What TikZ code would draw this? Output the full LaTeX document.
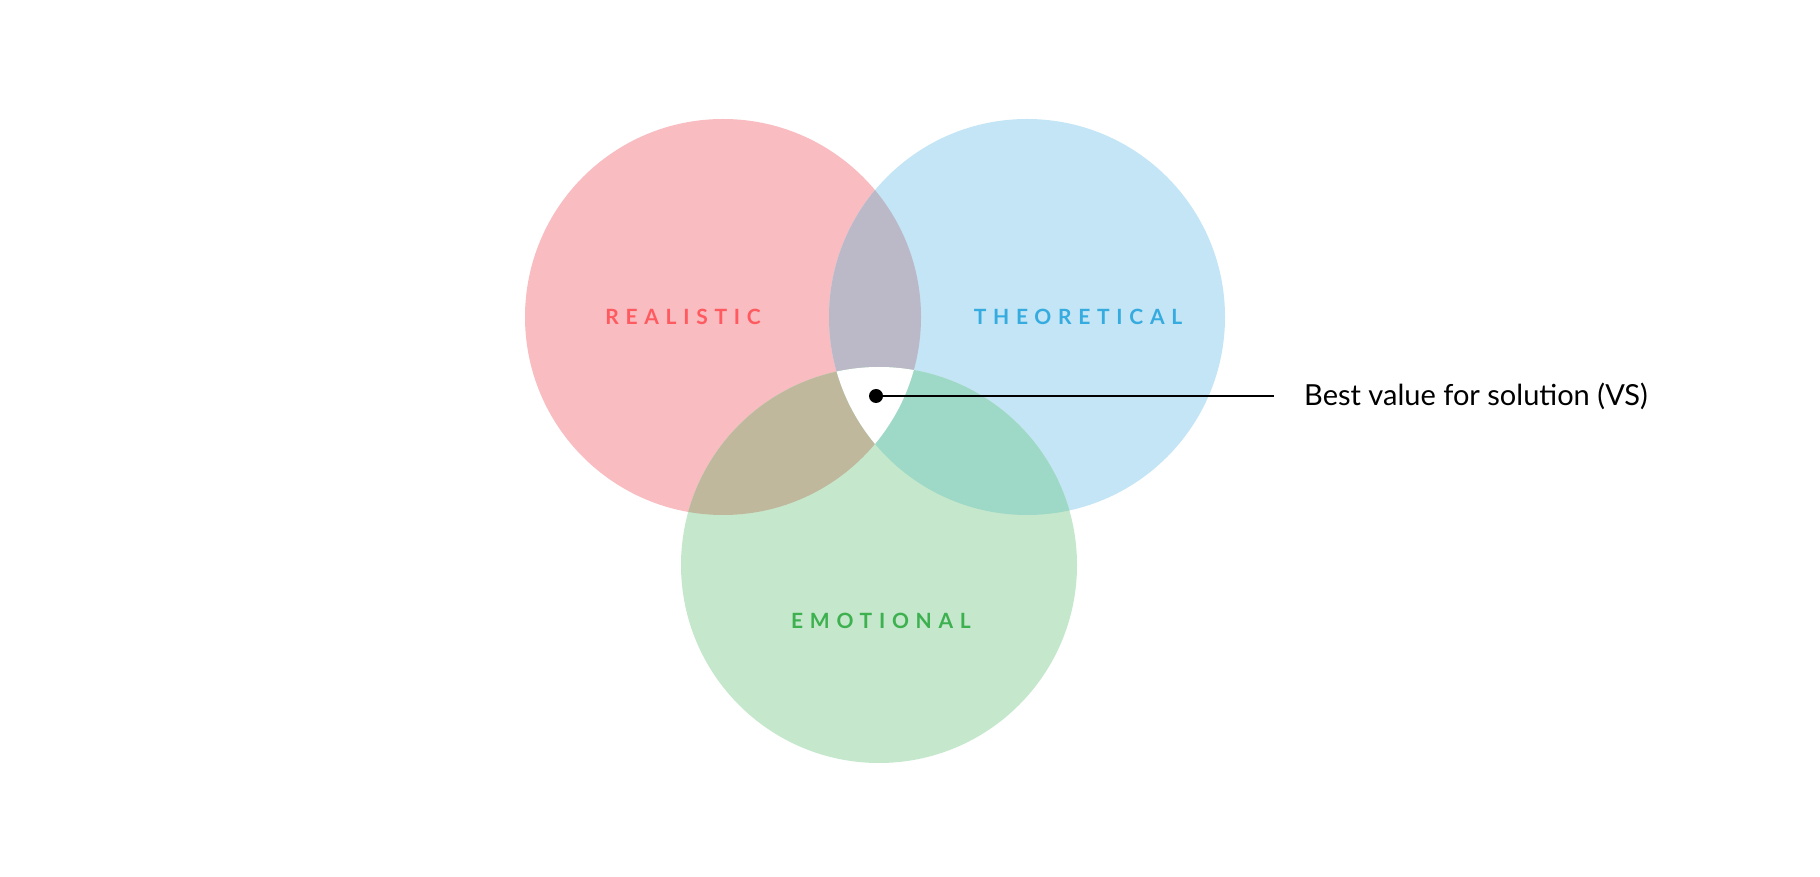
\documentclass[tikz,border=0pt]{standalone}
\usepackage{fontspec}
\setmainfont{Lato}
\definecolor{cR}{HTML}{F8BCC1}
\definecolor{cB}{HTML}{C3E5F5}
\definecolor{cG}{HTML}{C5E8CC}
\definecolor{cRB}{HTML}{BBB8C8}
\definecolor{cRG}{HTML}{C0B89C}
\definecolor{cBG}{HTML}{9ED8C6}
\definecolor{tR}{HTML}{FF5A5F}
\definecolor{tB}{HTML}{35ABDF}
\definecolor{tG}{HTML}{3DB04F}
\tikzset{lab/.style={font=\fontsize{21}{24}\selectfont\addfontfeature{LetterSpace=32}\bfseries}}
\begin{document}
\begin{tikzpicture}[x=1pt,y=1pt]
\useasboundingbox (0,0) rectangle (1820,876);
\def\r{198}
\coordinate (R) at (723,559);
\coordinate (B) at (1027,559);
\coordinate (G) at (879,311);
\fill[cR] (R) circle (\r);
\fill[cB] (B) circle (\r);
\fill[cG] (G) circle (\r);
\begin{scope}\clip (R) circle (\r); \fill[cRB] (B) circle (\r); \fill[cRG] (G) circle (\r);\end{scope}
\begin{scope}\clip (B) circle (\r); \fill[cBG] (G) circle (\r);
 \clip (R) circle (\r); \fill[white] (G) circle (\r);\end{scope}
\node[lab,text=tR] (lr) at (683,559) {REALISTIC};
\node[lab,text=tB] (lb) at (1078,559) {THEORETICAL};
\node[lab,text=tG] (lg) at (881,255) {EMOTIONAL};
\fill (876,480) circle (7) coordinate (dot);
\coordinate (dp) at (876,480);
\coordinate (le) at (1274,480);
\draw[line width=2] (dp) -- (le);
\node[anchor=west,font=\fontsize{29}{34}\selectfont,inner sep=0] (t) at (1304,480) {Best value for solution (VS)};
\end{tikzpicture}
\end{document}
